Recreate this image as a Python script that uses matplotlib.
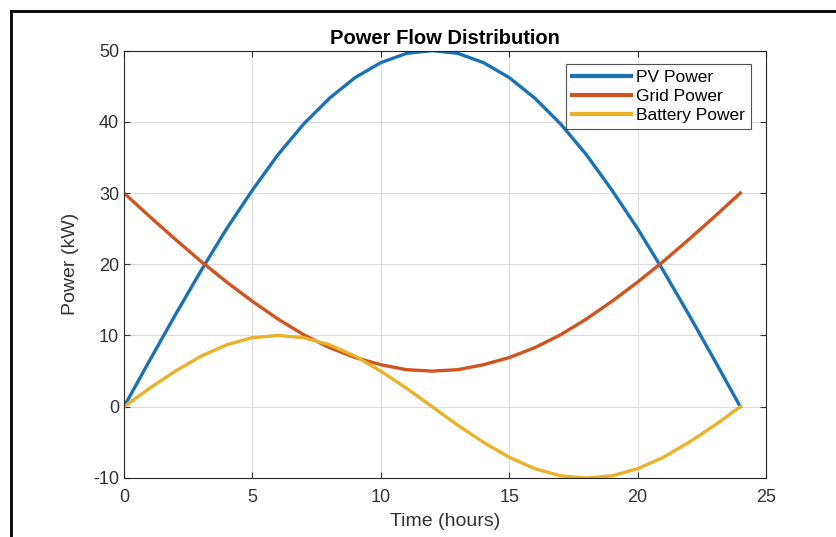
import matplotlib.pyplot as plt
from matplotlib.lines import Line2D

hours = list(range(25))
pv_power = [0, 6.5, 12.9, 19.1, 25.0, 30.4, 35.4, 39.7, 43.3, 46.2, 48.3, 49.6, 50.0,
            49.6, 48.3, 46.2, 43.3, 39.7, 35.4, 30.4, 25.0, 19.1, 12.9, 6.5, 0]
grid_power = [30.0, 26.7, 23.5, 20.4, 17.5, 14.8, 12.3, 10.1, 8.3, 6.9, 5.9, 5.2, 5.0,
              5.2, 5.9, 6.9, 8.3, 10.1, 12.3, 14.8, 17.5, 20.4, 23.5, 26.7, 30.0]
battery_power = [0, 2.6, 5.0, 7.1, 8.7, 9.7, 10.0, 9.7, 8.7, 7.1, 5.0, 2.6, 0,
                 -2.6, -5.0, -7.1, -8.7, -9.7, -10.0, -9.7, -8.7, -7.1, -5.0, -2.6, 0]

plt.rcParams['font.family'] = ['Liberation Sans', 'DejaVu Sans']
plt.rcParams['axes.unicode_minus'] = False

fig = plt.figure(figsize=(8.36, 5.37), dpi=100)
ax = fig.add_axes([0.1483, 0.1099, 0.768, 0.796])

ax.plot(hours, pv_power, color='#1a72b5', lw=2.4, label='PV Power')
ax.plot(hours, grid_power, color='#d0541f', lw=2.4, label='Grid Power')
ax.plot(hours, battery_power, color='#eab22a', lw=2.4, label='Battery Power')

ax.set_xlim(0, 25)
ax.set_ylim(-10, 50)
ax.set_xticks([0, 5, 10, 15, 20, 25])
ax.set_yticks([-10, 0, 10, 20, 30, 40, 50])
ax.grid(True, color='#dcdcdc', lw=0.8)
ax.tick_params(direction='in', top=True, right=True, labelsize=13, colors='#333333', length=4)
ax.tick_params(axis='x', pad=8)
for s in ax.spines.values():
    s.set_color('#262626')
    s.set_linewidth(0.8)

ax.set_title('Power Flow Distribution', fontsize=14.5, fontweight='bold', pad=5)
ax.set_xlabel('Time (hours)', fontsize=14, color='#333333', labelpad=5)
ax.set_ylabel('Power (kW)', fontsize=14, color='#333333', labelpad=10)

leg = ax.legend(loc='upper right', bbox_to_anchor=(0.976, 0.969), fontsize=12.5,
                frameon=True, fancybox=False, edgecolor='#262626', handlelength=3.4,
                handletextpad=0.25, borderpad=0.35, labelspacing=0.22, borderaxespad=0)
leg.get_frame().set_linewidth(0.8)
for line in leg.get_lines():
    line.set_linewidth(3)

# outer frame lines
fig.add_artist(Line2D([11/836, 11/836], [0, 1 - 11/537], color='black', lw=2))
fig.add_artist(Line2D([11/836, 1], [1 - 11/537, 1 - 11/537], color='black', lw=2))

fig.savefig('out.png', dpi=100)
